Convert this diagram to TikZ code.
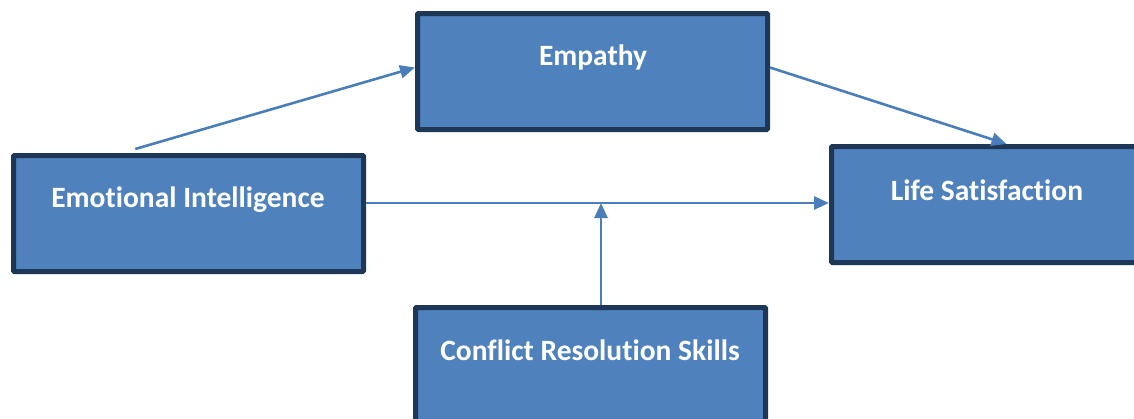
\documentclass[tikz,border=0pt]{standalone}
\usepackage{fontspec}
\setmainfont{Carlito}[Ligatures={NoCommon,NoRequired,NoContextual},RawFeature={-liga;-clig;-calt}]
\usetikzlibrary{arrows.meta,calc}
\definecolor{boxfill}{HTML}{4F81BD}
\definecolor{boxline}{HTML}{1F3756}
\definecolor{linkcol}{HTML}{4A7EBB}
\begin{document}
\begin{tikzpicture}[x=1pt,y=-1pt,
  box/.style={draw=boxline,fill=boxfill,line width=5pt,rounded corners=1pt,
    minimum width=350pt,minimum height=116pt,inner sep=0pt},
  boxtext/.style={text=white,font=\fontsize{29.5}{33}\selectfont\bfseries,inner sep=0pt},
  link/.style={draw=linkcol,line width=2.6pt,-{Triangle[length=15pt,width=13pt]}}]
\useasboundingbox (0,0) rectangle (1134,418);
\clip (0,0) rectangle (1134,418);
% boxes
\node[box] (emp) at (592.5,71.5) {};
\node[box] (ei)  at (188.5,213.5) {};
\node[box] (ls)  at (1006.5,204.5) {};
\node[box] (crs) at (590.5,365.5) {};
% labels
\node[boxtext] (empT) at (593,57) {Empathy};
\node[boxtext] (eiT)  at (188,200) {Emotional Intelligence};
\node[boxtext] (lsT)  at (987,190) {Life Satisfaction};
\node[boxtext] (crsT) at (590,350) {Conflict Resolution Skills};
% junction on the direct path
\coordinate (join) at (601,203);
% connectors
\draw[link] ($(ei.north west)!0.35!(ei.north east)+(0,-4)$) -- ($(emp.west)+(0,-4)$);
\draw[link] ($(emp.east)+(0,-4)$) -- (ls.north);
\draw[link] (ei.east |- join) -- (ls.west |- join);
\draw[link] (crs.north -| join) -- (join);
\end{tikzpicture}
\end{document}
